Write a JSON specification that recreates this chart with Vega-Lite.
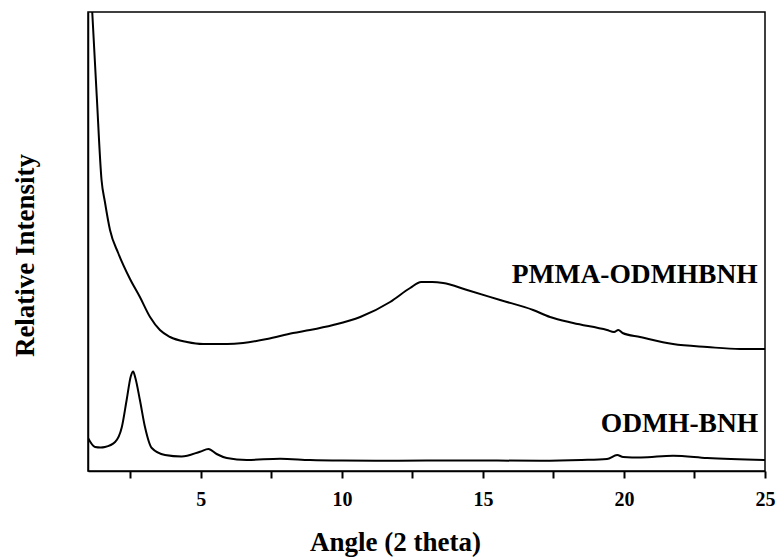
{
  "$schema": "https://vega.github.io/schema/vega-lite/v6.json",
  "width": 677,
  "height": 459,
  "autosize": {"type": "none"},
  "padding": {"left": 88, "top": 12, "right": 17, "bottom": 87},
  "background": "white",
  "config": {
    "view": {"stroke": "black", "strokeWidth": 1.5},
    "font": "Liberation Serif"
  },
  "datasets": {
    "xrd": [
      {"series": "PMMA-ODMHBNH", "angle": 1.15, "intensity": 459},
      {"series": "PMMA-ODMHBNH", "angle": 1.31, "intensity": 375},
      {"series": "PMMA-ODMHBNH", "angle": 1.48, "intensity": 291},
      {"series": "PMMA-ODMHBNH", "angle": 1.60, "intensity": 269},
      {"series": "PMMA-ODMHBNH", "angle": 1.78, "intensity": 241},
      {"series": "PMMA-ODMHBNH", "angle": 2.07, "intensity": 218},
      {"series": "PMMA-ODMHBNH", "angle": 2.49, "intensity": 192},
      {"series": "PMMA-ODMHBNH", "angle": 2.84, "intensity": 174},
      {"series": "PMMA-ODMHBNH", "angle": 3.20, "intensity": 154},
      {"series": "PMMA-ODMHBNH", "angle": 3.55, "intensity": 141},
      {"series": "PMMA-ODMHBNH", "angle": 3.91, "intensity": 134},
      {"series": "PMMA-ODMHBNH", "angle": 4.51, "intensity": 129},
      {"series": "PMMA-ODMHBNH", "angle": 5.08, "intensity": 127},
      {"series": "PMMA-ODMHBNH", "angle": 5.93, "intensity": 127},
      {"series": "PMMA-ODMHBNH", "angle": 6.50, "intensity": 128},
      {"series": "PMMA-ODMHBNH", "angle": 7.35, "intensity": 132},
      {"series": "PMMA-ODMHBNH", "angle": 8.27, "intensity": 138},
      {"series": "PMMA-ODMHBNH", "angle": 8.87, "intensity": 141},
      {"series": "PMMA-ODMHBNH", "angle": 9.69, "intensity": 146},
      {"series": "PMMA-ODMHBNH", "angle": 10.65, "intensity": 154},
      {"series": "PMMA-ODMHBNH", "angle": 11.71, "intensity": 169},
      {"series": "PMMA-ODMHBNH", "angle": 12.42, "intensity": 183},
      {"series": "PMMA-ODMHBNH", "angle": 12.81, "intensity": 189},
      {"series": "PMMA-ODMHBNH", "angle": 13.20, "intensity": 189},
      {"series": "PMMA-ODMHBNH", "angle": 13.59, "intensity": 188},
      {"series": "PMMA-ODMHBNH", "angle": 14.44, "intensity": 181},
      {"series": "PMMA-ODMHBNH", "angle": 15.61, "intensity": 171},
      {"series": "PMMA-ODMHBNH", "angle": 16.78, "intensity": 161},
      {"series": "PMMA-ODMHBNH", "angle": 17.38, "intensity": 154},
      {"series": "PMMA-ODMHBNH", "angle": 18.20, "intensity": 148},
      {"series": "PMMA-ODMHBNH", "angle": 19.40, "intensity": 141},
      {"series": "PMMA-ODMHBNH", "angle": 19.65, "intensity": 139},
      {"series": "PMMA-ODMHBNH", "angle": 19.80, "intensity": 141},
      {"series": "PMMA-ODMHBNH", "angle": 19.95, "intensity": 138},
      {"series": "PMMA-ODMHBNH", "angle": 20.57, "intensity": 134},
      {"series": "PMMA-ODMHBNH", "angle": 21.74, "intensity": 127},
      {"series": "PMMA-ODMHBNH", "angle": 22.95, "intensity": 124},
      {"series": "PMMA-ODMHBNH", "angle": 24.12, "intensity": 122},
      {"series": "PMMA-ODMHBNH", "angle": 25.00, "intensity": 122},
      {"series": "ODMH-BNH", "angle": 1.00, "intensity": 33},
      {"series": "ODMH-BNH", "angle": 1.25, "intensity": 24},
      {"series": "ODMH-BNH", "angle": 1.45, "intensity": 23.5},
      {"series": "ODMH-BNH", "angle": 1.60, "intensity": 24},
      {"series": "ODMH-BNH", "angle": 1.96, "intensity": 29},
      {"series": "ODMH-BNH", "angle": 2.20, "intensity": 44},
      {"series": "ODMH-BNH", "angle": 2.37, "intensity": 71},
      {"series": "ODMH-BNH", "angle": 2.52, "intensity": 95},
      {"series": "ODMH-BNH", "angle": 2.60, "intensity": 99.5},
      {"series": "ODMH-BNH", "angle": 2.68, "intensity": 93},
      {"series": "ODMH-BNH", "angle": 2.84, "intensity": 71},
      {"series": "ODMH-BNH", "angle": 3.02, "intensity": 44},
      {"series": "ODMH-BNH", "angle": 3.26, "intensity": 23},
      {"series": "ODMH-BNH", "angle": 3.73, "intensity": 16},
      {"series": "ODMH-BNH", "angle": 4.32, "intensity": 14.5},
      {"series": "ODMH-BNH", "angle": 4.97, "intensity": 19.3},
      {"series": "ODMH-BNH", "angle": 5.27, "intensity": 22},
      {"series": "ODMH-BNH", "angle": 5.56, "intensity": 17},
      {"series": "ODMH-BNH", "angle": 5.92, "intensity": 13},
      {"series": "ODMH-BNH", "angle": 6.63, "intensity": 11},
      {"series": "ODMH-BNH", "angle": 7.81, "intensity": 12.3},
      {"series": "ODMH-BNH", "angle": 8.87, "intensity": 11},
      {"series": "ODMH-BNH", "angle": 10.00, "intensity": 10.5},
      {"series": "ODMH-BNH", "angle": 12.00, "intensity": 10.3},
      {"series": "ODMH-BNH", "angle": 14.00, "intensity": 10.5},
      {"series": "ODMH-BNH", "angle": 17.03, "intensity": 10.3},
      {"series": "ODMH-BNH", "angle": 18.50, "intensity": 11},
      {"series": "ODMH-BNH", "angle": 19.40, "intensity": 12},
      {"series": "ODMH-BNH", "angle": 19.76, "intensity": 16},
      {"series": "ODMH-BNH", "angle": 19.97, "intensity": 14},
      {"series": "ODMH-BNH", "angle": 20.60, "intensity": 13.5},
      {"series": "ODMH-BNH", "angle": 21.74, "intensity": 15.3},
      {"series": "ODMH-BNH", "angle": 22.95, "intensity": 13},
      {"series": "ODMH-BNH", "angle": 25.00, "intensity": 11}
    ],
    "labels": [
      {"label": "PMMA-ODMHBNH", "angle": 24.74, "intensity": 188},
      {"label": "ODMH-BNH", "angle": 24.76, "intensity": 39}
    ]
  },
  "layer": [
    {
      "data": {"name": "xrd"},
      "mark": {"type": "line", "color": "black", "strokeWidth": 2, "clip": true, "interpolate": "monotone"},
      "encoding": {
        "x": {
          "field": "angle", "type": "quantitative",
          "scale": {"domain": [1, 25], "nice": false, "zero": false},
          "axis": {
            "values": [2.5, 5, 7.5, 10, 12.5, 15, 17.5, 20, 22.5, 25],
            "labelExpr": "datum.value % 5 === 0 ? datum.label : ''",
            "grid": false,
            "domainColor": "black", "domainWidth": 1.5,
            "ticks": true, "tickColor": "#000000", "tickWidth": 2, "tickOpacity": 1,
            "tickSize": 7,
            "labelFont": "Liberation Serif", "labelFontWeight": "bold", "labelFontSize": 20,
            "labelColor": "black", "labelBaseline": "alphabetic", "labelPadding": 27,
            "labelFlush": false, "labelOverlap": false,
            "title": "Angle (2 theta)",
            "titleFont": "Liberation Serif", "titleFontWeight": "bold", "titleFontSize": 27,
            "titleColor": "black", "titleX": 307, "titleY": 79,
            "titleAlign": "center", "titleBaseline": "alphabetic"
          }
        },
        "y": {
          "field": "intensity", "type": "quantitative",
          "scale": {"domain": [0, 459], "nice": false},
          "axis": {
            "labels": false, "ticks": false, "grid": false,
            "domainColor": "black", "domainWidth": 1.5,
            "title": "Relative Intensity",
            "titleFont": "Liberation Serif", "titleFontWeight": "bold", "titleFontSize": 27,
            "titleColor": "black", "titleAngle": -90, "titleX": -55, "titleY": 243,
            "titleAlign": "center", "titleBaseline": "alphabetic"
          }
        },
        "detail": {"field": "series", "type": "nominal"}
      }
    },
    {
      "data": {"name": "labels"},
      "mark": {"type": "text", "align": "right", "baseline": "alphabetic", "font": "Liberation Serif", "fontWeight": "bold", "fontSize": 27.5, "color": "black"},
      "encoding": {
        "x": {"field": "angle", "type": "quantitative"},
        "y": {"field": "intensity", "type": "quantitative"},
        "text": {"field": "label", "type": "nominal"}
      }
    }
  ]
}
